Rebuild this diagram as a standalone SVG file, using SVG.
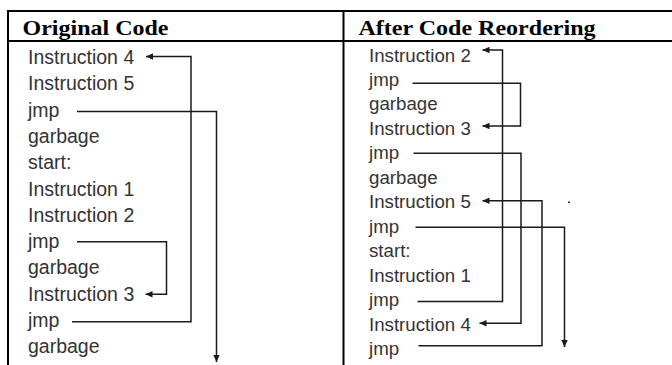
<svg xmlns="http://www.w3.org/2000/svg" width="672" height="365" viewBox="0 0 672 365">
<defs>
<marker id="ah" markerWidth="8" markerHeight="8" refX="7" refY="4" orient="auto" markerUnits="userSpaceOnUse">
<path d="M0,0.8 L7,4 L0,7.2 Z" fill="#1a1a1a"/>
</marker>
<style>
.hd{font-family:"Liberation Serif","Times New Roman",serif;font-weight:bold;font-size:22px;fill:#000}
.l{font-family:"Liberation Sans",Arial,sans-serif;font-size:19.5px;fill:#333}
.r{font-family:"Liberation Sans",Arial,sans-serif;font-size:18.7px;fill:#333}
.tb{stroke:#000;stroke-width:2;fill:none}
.cn{stroke:#1a1a1a;stroke-width:1.5;fill:none;marker-end:url(#ah)}
</style>
</defs>
<rect width="672" height="365" fill="#fff"/>
<g id="table">
<line class="tb" x1="7" y1="11" x2="672" y2="11"/>
<line class="tb" x1="7" y1="41" x2="672" y2="41"/>
<line class="tb" x1="8" y1="10" x2="8" y2="365"/>
<line class="tb" x1="343.5" y1="10" x2="343.5" y2="365"/>
<text class="hd" x="22.5" y="35" textLength="146" lengthAdjust="spacingAndGlyphs">Original Code</text>
<text class="hd" x="358.5" y="35" textLength="237" lengthAdjust="spacingAndGlyphs">After Code Reordering</text>
</g>
<g id="original-code">
<text class="l" x="28" y="64">Instruction 4</text>
<text class="l" x="28" y="90.3">Instruction 5</text>
<text class="l" x="28" y="116.6">jmp</text>
<text class="l" x="28" y="142.9">garbage</text>
<text class="l" x="28" y="169.2">start:</text>
<text class="l" x="28" y="195.5">Instruction 1</text>
<text class="l" x="28" y="221.8">Instruction 2</text>
<text class="l" x="28" y="248.1">jmp</text>
<text class="l" x="28" y="274.4">garbage</text>
<text class="l" x="28" y="300.7">Instruction 3</text>
<text class="l" x="28" y="327">jmp</text>
<text class="l" x="28" y="353.3">garbage</text>
</g>
<g id="reordered-code">
<text class="r" x="369" y="61.5">Instruction 2</text>
<text class="r" x="369" y="86">jmp</text>
<text class="r" x="369" y="110.4">garbage</text>
<text class="r" x="369" y="134.9">Instruction 3</text>
<text class="r" x="369" y="159.3">jmp</text>
<text class="r" x="369" y="183.8">garbage</text>
<text class="r" x="369" y="208.2">Instruction 5</text>
<text class="r" x="369" y="232.7">jmp</text>
<text class="r" x="369" y="257.1">start:</text>
<text class="r" x="369" y="281.6">Instruction 1</text>
<text class="r" x="369" y="306">jmp</text>
<text class="r" x="369" y="330.5">Instruction 4</text>
<text class="r" x="369" y="354.9">jmp</text>
</g>
<g id="connectors">
<path class="cn" d="M72,321.7 H191 V56.5 H146"/>
<path class="cn" d="M77,111.5 H216.5 V362"/>
<path class="cn" d="M77,241.7 H166.5 V294.3 H145.5"/>
<path class="cn" d="M417.5,301.5 H502.5 V50 H482.5"/>
<path class="cn" d="M412.5,83.3 H520.5 V126 H482.5"/>
<path class="cn" d="M413.5,153.3 H521 V323.3 H479.5"/>
<path class="cn" d="M418.5,345.7 H542 V200.7 H482.5"/>
<path class="cn" d="M415.5,227.3 H564.5 V347"/>
</g>
<rect x="568" y="201.5" width="2" height="1.5" fill="#333"/>
</svg>
